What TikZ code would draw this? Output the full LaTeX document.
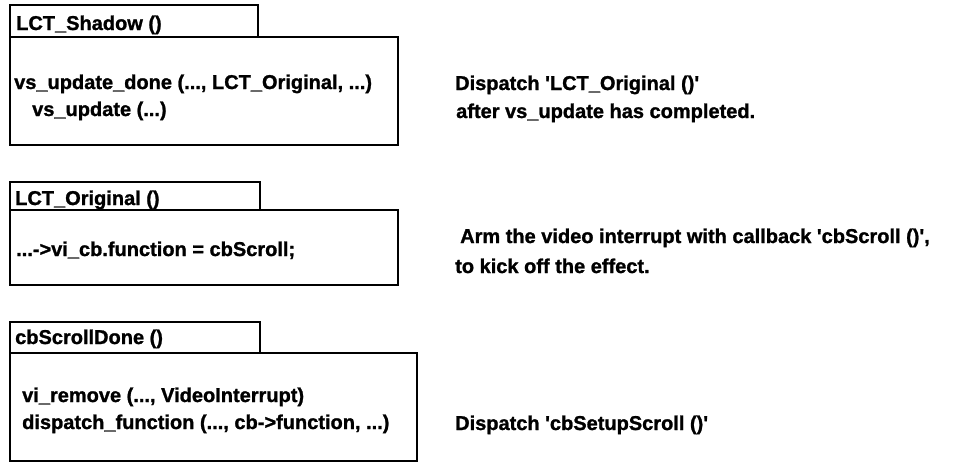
\documentclass[tikz,border=0pt]{standalone}
\usepackage{fontspec}
\setmainfont{Liberation Sans}[BoldFeatures={FakeBold=1.2}]
\newcommand{\sq}{\textquotesingle}
\begin{document}
\begin{tikzpicture}[x=1pt,y=-1pt,
  frame/.style={draw=black,line width=2.8pt,anchor=north west,inner sep=0pt,outer sep=0pt},
  txt/.style={anchor=base west,inner sep=0pt,font=\fontsize{20}{24}\selectfont\bfseries}]
\useasboundingbox[fill=white] (0,0) rectangle (953,464);
% box 1
\node[frame,minimum width=248pt,minimum height=32pt] (tab1) at (10,5) {};
\node[frame,minimum width=388pt,minimum height=108pt] (main1) at (10,37) {};
\node[txt] (t1) at (16,30) {LCT\_Shadow ()};
\node[txt] (l1a) at (14,89) {vs\_update\_done (..., LCT\_Original, ...)};
\node[txt] (l1b) at (32,116) {vs\_update (...)};
\node[txt] (r1a) at (455,90) {Dispatch \sq LCT\_Original ()\sq};
\node[txt] (r1b) at (456,118) {after vs\_update has completed.};
% box 2
\node[frame,minimum width=250pt,minimum height=28pt] (tab2) at (10,182) {};
\node[frame,minimum width=388pt,minimum height=75pt] (main2) at (10,210) {};
\node[txt] (t2) at (15,205) {LCT\_Original ()};
\node[txt] (l2a) at (16,256) {...->vi\_cb.function = cbScroll;};
\node[txt] (r2a) at (460,243) {Arm the video interrupt with callback \sq cbScroll ()\sq,};
\node[txt] (r2b) at (455,273) {to kick off the effect.};
% box 3
\node[frame,minimum width=250pt,minimum height=31pt] (tab3) at (10,322) {};
\node[frame,minimum width=407pt,minimum height=108pt] (main3) at (10,353) {};
\node[txt] (t3) at (15,344) {cbScrollDone ()};
\node[txt] (l3a) at (22,402) {vi\_remove (..., VideoInterrupt)};
\node[txt] (l3b) at (22,429) {dispatch\_function (..., cb->function, ...)};
\node[txt] (r3a) at (455,430) {Dispatch \sq cbSetupScroll ()\sq};
\end{tikzpicture}
\end{document}
